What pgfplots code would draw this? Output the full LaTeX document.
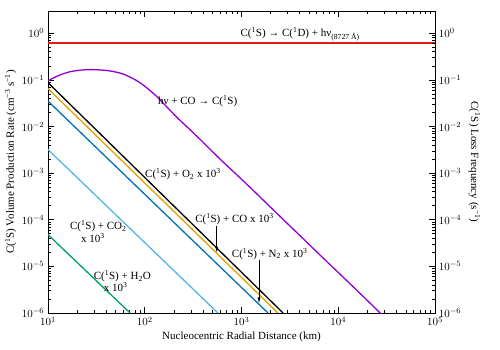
\documentclass[11pt,border=0pt]{standalone}
\usepackage{fontspec}
\setmainfont{Liberation Serif}
\usepackage{pgfplots}
\pgfplotsset{compat=1.18}
\usetikzlibrary{arrows.meta}
\definecolor{cpurple}{HTML}{9400D3}
\definecolor{cred}{HTML}{E31A1C}
\definecolor{corange}{HTML}{E69F00}
\definecolor{cblue}{HTML}{0072B2}
\definecolor{clblue}{HTML}{56B4E9}
\definecolor{cgreen}{HTML}{009E73}
\begin{document}
\begin{tikzpicture}
\pgfplotsset{
  every axis/.append style={
    scale only axis, width=387pt, height=302pt,
    xmode=log, ymode=log,
    xmin=10, xmax=1e5, ymin=1e-6, ymax=3,
    axis line style={line width=0.8pt},
    major tick length=6pt, minor tick length=3pt,
    every tick/.style={black, line width=0.6pt},
    tick label style={font=\fontsize{11}{13}\selectfont},
    label style={font=\fontsize{11}{13}\selectfont},
  }
}
\begin{axis}[
  ytick pos=left, xtick pos=both,
  xlabel={Nucleocentric Radial Distance (km)},
  ylabel={C(\textsuperscript{1}S) Volume Production Rate (cm\textsuperscript{−3} s\textsuperscript{−1})},
  xlabel style={yshift=2pt},
  ylabel style={yshift=-2pt},
]
\coordinate (bl) at (rel axis cs:0,0);
\coordinate (tr) at (rel axis cs:1,1);
\addplot[cred, line width=1.3pt] coordinates {(10,0.62) (100000,0.62)};
\addplot[cpurple, line width=1.3pt, smooth] coordinates {
(10,0.096)(13,0.125)(17,0.150)(22,0.162)(27,0.166)(35,0.163)(45,0.154)(60,0.133)
(80,0.100)(100,0.073)(130,0.046)(170,0.026)(220,0.0150)(300,0.0082)(400,0.0046)
(600,0.00200)(1000,7.4e-4)(1500,3.3e-4)(2000,1.85e-4)(3000,8.2e-5)(5000,2.95e-5)
(7000,1.5e-5)(10000,7.4e-6)(15000,3.3e-6)(20000,1.85e-6)(27000,1.01e-6)(35000,6e-7)};
\addplot[black, line width=1.3pt] coordinates {(10,0.087) (2690,1e-6)};
\addplot[corange, line width=1.3pt] coordinates {(10,0.065) (2380,1e-6)};
\addplot[cblue, line width=1.3pt] coordinates {(10,0.035) (1880,1e-6)};
\addplot[clblue, line width=1.3pt] coordinates {(10,0.0032) (571,1e-6)};
\addplot[cgreen, line width=1.3pt] coordinates {(10,4.8e-5) (70.5,1e-6)};
\draw[line width=0.7pt, -{Latex[length=6pt,width=3pt]}] (axis cs:555,7.5e-5) -- (axis cs:555,1.95e-5);
\draw[line width=0.7pt, -{Latex[length=6pt,width=3pt]}] (axis cs:1517,1.38e-5) -- (axis cs:1517,1.6e-6);
\begin{scope}[every node/.style={font=\fontsize{11}{13}\selectfont, inner sep=0pt}]
\node[anchor=base west] at (rel axis cs:0.497,0.914) {C(\textsuperscript{1}S) → C(\textsuperscript{1}D) + hν\textsubscript{(8727 Å)}};
\node[anchor=base west] at (rel axis cs:0.284,0.692) {hν + CO → C(\textsuperscript{1}S)};
\node[anchor=base west] at (rel axis cs:0.2506,0.449) {C(\textsuperscript{1}S) + O\textsubscript{2} x 10\textsuperscript{3}};
\node[anchor=base west] at (rel axis cs:0.380,0.301) {C(\textsuperscript{1}S) + CO x 10\textsuperscript{3}};
\node[anchor=base west] at (rel axis cs:0.4747,0.185) {C(\textsuperscript{1}S) + N\textsubscript{2} x 10\textsuperscript{3}};
\node[anchor=base] at (rel axis cs:0.130,0.275) {C(\textsuperscript{1}S) + CO\textsubscript{2}};
\node[anchor=base] at (rel axis cs:0.116,0.233) {x 10\textsuperscript{3}};
\node[anchor=base] at (rel axis cs:0.192,0.111) {C(\textsuperscript{1}S) + H\textsubscript{2}O};
\node[anchor=base] at (rel axis cs:0.175,0.072) {x 10\textsuperscript{3}};
\end{scope}
\end{axis}
\begin{axis}[
  axis y line*=right, axis x line=none,
  ylabel={C(\textsuperscript{1}S) Loss Frequency (s\textsuperscript{−1})},
  ylabel style={rotate=180},
]
\addplot[draw=none] coordinates {(10,1)};
\end{axis}
\pgfresetboundingbox
\path ([shift={(-48pt,-37pt)}]bl) rectangle ([shift={(65pt,11pt)}]tr);
\end{tikzpicture}
\end{document}
